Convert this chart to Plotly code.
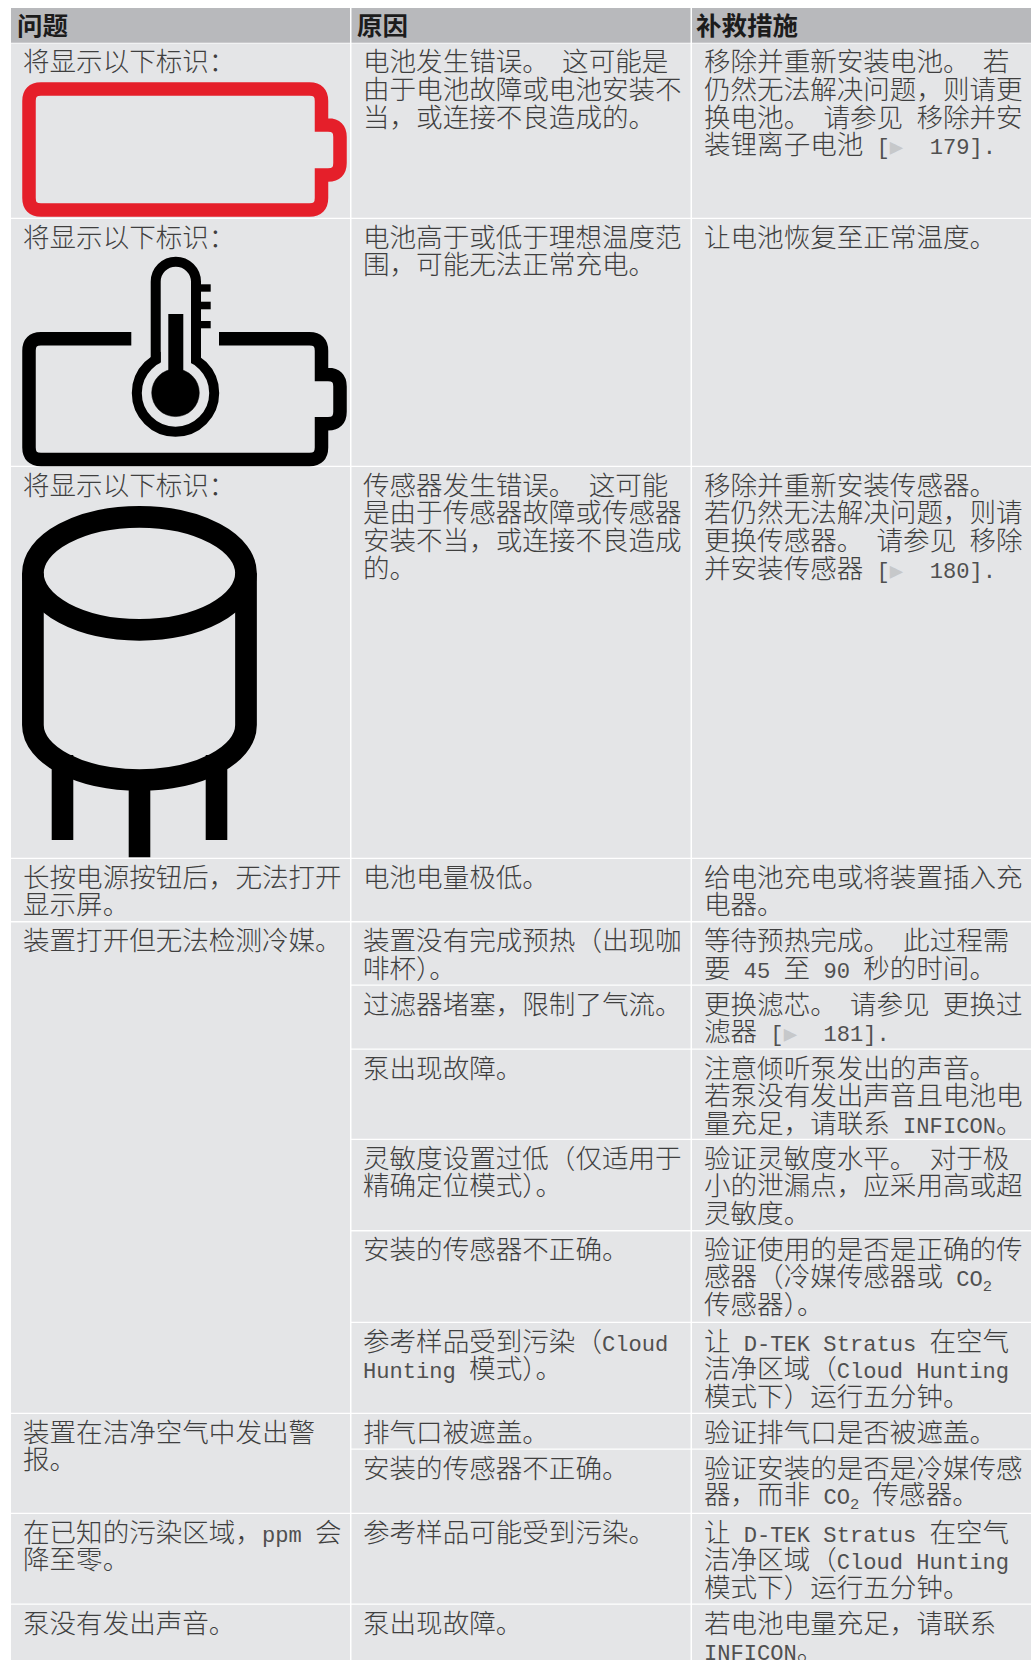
import re
import plotly.graph_objects as go

# ---------- table content ----------
headers = ["问题", "原因", "补救措施"]
row_tops = [43.5, 219, 467, 859, 922.4, 985.7, 1049.7, 1140, 1231.4, 1323, 1414, 1449.7, 1514, 1604.7, 1662]

problem_rows = [0, 1, 2, 3, 4, 10, 12, 13]
problem_spans = [1, 1, 1, 1, 6, 2, 1, 1]
problem_lines = [
    ["将显示以下标识:"],
    ["将显示以下标识:"],
    ["将显示以下标识:"],
    ["长按电源按钮后,无法打开", "显示屏。"],
    ["装置打开但无法检测冷媒。"],
    ["装置在洁净空气中发出警", "报。"],
    ["在已知的污染区域,ppm 会", "降至零。"],
    ["泵没有发出声音。"],
]
cause_lines = [
    ["电池发生错误。 这可能是", "由于电池故障或电池安装不", "当,或连接不良造成的。"],
    ["电池高于或低于理想温度范", "围,可能无法正常充电。"],
    ["传感器发生错误。 这可能", "是由于传感器故障或传感器", "安装不当,或连接不良造成", "的。"],
    ["电池电量极低。"],
    ["装置没有完成预热(出现咖", "啡杯)。"],
    ["过滤器堵塞,限制了气流。"],
    ["泵出现故障。"],
    ["灵敏度设置过低(仅适用于", "精确定位模式)。"],
    ["安装的传感器不正确。"],
    ["参考样品受到污染(Cloud", "Hunting 模式)。"],
    ["排气口被遮盖。"],
    ["安装的传感器不正确。"],
    ["参考样品可能受到污染。"],
    ["泵出现故障。"],
]
remedy_lines = [
    ["移除并重新安装电池。 若", "仍然无法解决问题,则请更", "换电池。 请参见 移除并安", "装锂离子电池 [▶  179]."],
    ["让电池恢复至正常温度。"],
    ["移除并重新安装传感器。", "若仍然无法解决问题,则请", "更换传感器。 请参见 移除", "并安装传感器 [▶  180]."],
    ["给电池充电或将装置插入充", "电器。"],
    ["等待预热完成。 此过程需", "要 45 至 90 秒的时间。"],
    ["更换滤芯。 请参见 更换过", "滤器 [▶  181]."],
    ["注意倾听泵发出的声音。", "若泵没有发出声音且电池电", "量充足,请联系 INFICON。"],
    ["验证灵敏度水平。 对于极", "小的泄漏点,应采用高或超", "灵敏度。"],
    ["验证使用的是否是正确的传", "感器(冷媒传感器或 CO₂", "传感器)。"],
    ["让 D-TEK Stratus 在空气", "洁净区域(Cloud Hunting", "模式下)运行五分钟。"],
    ["验证排气口是否被遮盖。"],
    ["验证安装的是否是冷媒传感", "器,而非 CO₂ 传感器。"],
    ["让 D-TEK Stratus 在空气", "洁净区域(Cloud Hunting", "模式下)运行五分钟。"],
    ["若电池电量充足,请联系", "INFICON。"],
]

# Punctuation in the reference is full-width.
FULL = {0x2c: "\uff0c", 0x3a: "\uff1a", 0x28: "\uff08", 0x29: "\uff09"}
problem_lines = [[s.translate(FULL) for s in c] for c in problem_lines]
cause_lines = [[s.translate(FULL) for s in c] for c in cause_lines]
remedy_lines = [[s.translate(FULL) for s in c] for c in remedy_lines]

# ---------- styles ----------
W, H = 1035, 1660
COLS = [(11, 350), (351.5, 690.5), (692, 1031)]
HEADER_X = [17, 357, 696]
TEXT_X = [23, 363.3, 704]
CELL = "#e4e5e7"
HEAD = "#b8b9bc"
INK = "#3f3f3f"
RED = "#e51f2a"
BLACK = "#000000"
CJK = "Noto Sans CJK SC"
LH = 27.6


def markup(line):
    def latin(m):
        s = m.group(0).replace("₂", "<sub>2</sub>")
        s = s.replace("▶", "<span style=\"font-family:DejaVu Sans Mono;color:#c6c8ca\">▶</span>")
        return f"<span style=\"font-family:Liberation Mono;font-size:22.1px;color:#505050\">{s}</span>"
    return re.sub(r"[\x20-\x7e▶₂]+", latin, line)


fig = go.Figure()
shapes, notes = [], []


def rect(x0, y0, x1, y1, color):
    shapes.append(dict(type="rect", x0=x0, x1=x1, y0=y0, y1=y1, fillcolor=color, line_width=0, layer="above"))


def stroke(path, color, width):
    shapes.append(dict(type="path", path=path, line=dict(color=color, width=width), fillcolor="rgba(0,0,0,0)", layer="above"))


def ring(x0, y0, x1, y1, color, width, fill="rgba(0,0,0,0)"):
    shapes.append(dict(type="circle", x0=x0, x1=x1, y0=y0, y1=y1, line=dict(color=color, width=width), fillcolor=fill, layer="above"))


def cell_text(col, top, lines):
    for i, line in enumerate(lines):
        notes.append(dict(x=TEXT_X[col], y=top + 16.3 + i * LH, text=markup(line), xref="x", yref="y",
                          xanchor="left", yanchor="middle", align="left", showarrow=False,
                          borderpad=0, borderwidth=0,
                          font=dict(family=CJK, size=26.55, color=INK, weight=300)))


# header
for (x0, x1), hx, label in zip(COLS, HEADER_X, headers):
    rect(x0, 8, x1, 42.7, HEAD)
    notes.append(dict(x=hx, y=23.5, text=label, xref="x", yref="y", xanchor="left", yanchor="middle",
                      showarrow=False, borderpad=0, borderwidth=0,
                      font=dict(family=CJK, size=25.5, color="#1c1c1c", weight=700)))

# problem column (merged cells)
for r, span, lines in zip(problem_rows, problem_spans, problem_lines):
    rect(COLS[0][0], row_tops[r], COLS[0][1], row_tops[r + span] - 1.3, CELL)
    cell_text(0, row_tops[r], lines)

# cause and remedy columns
for col, texts in ((1, cause_lines), (2, remedy_lines)):
    for r, lines in enumerate(texts):
        rect(COLS[col][0], row_tops[r], COLS[col][1], row_tops[r + 1] - 1.3, CELL)
        cell_text(col, row_tops[r], lines)

# battery icon (red)
stroke("M 41 89 L 309.5 89 Q 321.5 89 321.5 101 L 321.5 125 L 328 125 Q 340 125 340 137 L 340 163 "
       "Q 340 175 328 175 L 321.5 175 L 321.5 198 Q 321.5 210 309.5 210 L 41 210 Q 29 210 29 198 "
       "L 29 101 Q 29 89 41 89 Z", RED, 13.5)

# battery + thermometer icon
stroke("M 131.3 338.7 L 41 338.7 Q 29 338.7 29 350.7 L 29 447.5 Q 29 459.5 41 459.5 L 309.5 459.5 "
       "Q 321.5 459.5 321.5 447.5 L 321.5 423.7 L 328 423.7 Q 340 423.7 340 411.7 L 340 386.5 "
       "Q 340 374.5 328 374.5 L 321.5 374.5 L 321.5 350.7 Q 321.5 338.7 309.5 338.7 L 219 338.7", BLACK, 13.5)
ring(136.8, 354.3, 214.2, 431.7, BLACK, 10)
rect(160.7, 345, 191, 368, CELL)
stroke("M 155.7 362 L 155.7 281.8 C 155.7 270.7 164.7 261.7 175.8 261.7 C 186.9 261.7 196 270.7 196 281.8 L 196 362", BLACK, 10)
ring(151.7, 369, 199.3, 416.6, BLACK, 0.5, BLACK)
rect(168.3, 314, 183.3, 380, BLACK)
for y0, y1 in ((284.3, 291.7), (301.7, 309.3), (321, 328.3)):
    rect(199, y0, 210.7, y1, BLACK)

# sensor icon
ring(32.9, 516.8, 246, 629.8, BLACK, 21.7)
stroke("M 32.9 573.3 L 32.9 725 C 32.9 755.4 80.6 780 139.5 780 C 198.3 780 246 755.4 246 725 L 246 573.3", BLACK, 21.7)
rect(51.7, 755, 73.3, 840, BLACK)
rect(128.7, 772, 150.3, 857.3, BLACK)
rect(205.7, 755, 227.3, 840, BLACK)

fig.update_layout(
    width=W, height=H, margin=dict(l=0, r=0, t=0, b=0, pad=0),
    paper_bgcolor="#ffffff", plot_bgcolor="#ffffff", showlegend=False,
    xaxis=dict(range=[0, W], visible=False, fixedrange=True),
    yaxis=dict(range=[H, 0], visible=False, fixedrange=True),
    shapes=shapes, annotations=notes,
)
fig.write_html("out.html", config=dict(displayModeBar=False),
               post_script="document.body.style.margin='0';document.body.style.overflow='hidden';")
